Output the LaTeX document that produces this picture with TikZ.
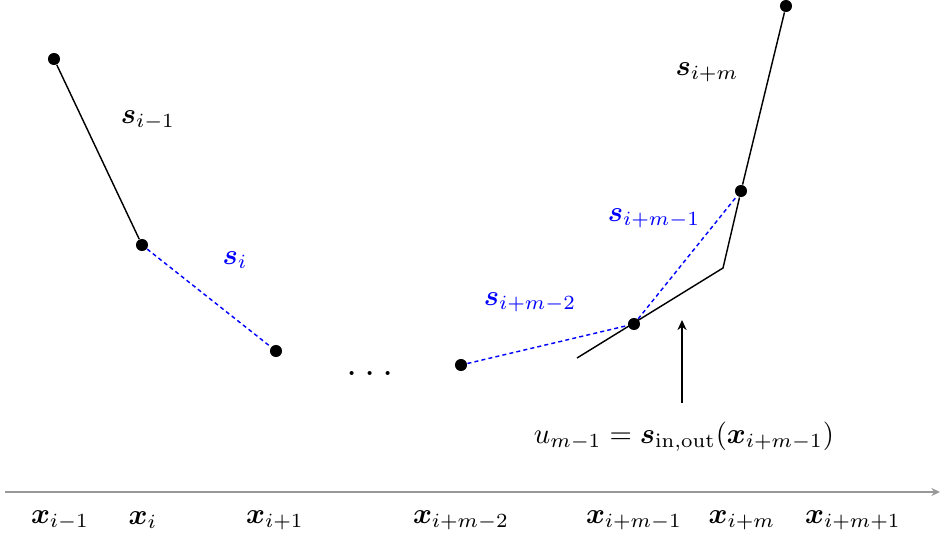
\documentclass[tikz,border=0pt]{standalone}
\usepackage{amsmath,bm}
\usetikzlibrary{arrows.meta}
\begin{document}
\begin{tikzpicture}[x=0.348pt,y=-0.348pt,
  pt/.style={circle,fill=black,inner sep=0pt,minimum size=4.2pt},
  seg/.style={black,line width=0.5pt},
  bseg/.style={blue,line width=0.5pt,dash pattern=on 1.4pt off 1.1pt},
  lab/.style={inner sep=0pt},
  blab/.style={inner sep=0pt,text=blue}]
\useasboundingbox (0,0) rectangle (947,547);
% points
\node[pt] (p1) at (54,59) {};
\node[pt] (p2) at (142,245) {};
\node[pt] (p3) at (276,351) {};
\node[pt] (p4) at (461,365) {};
\node[pt] (p5) at (634,324) {};
\node[pt] (p6) at (741,191) {};
\node[pt] (p7) at (786,6) {};
\node[lab,anchor=base] (dots) at (370,375) {\Large .\hspace{2.3pt}.\hspace{2.3pt}.};
% segments
\draw[seg] (p1) -- (p2);
\draw[bseg] (p2) -- (p3);
\draw[bseg] (p4) -- (p5);
\draw[bseg] (p5) -- (p6);
\draw[seg] (p6) -- (p7);
\coordinate (t0) at (577,358);
\coordinate (t1) at (723,268);
\draw[seg] (t0) -- (t1) -- (p6);
% labels
\node[lab] (l1) at (148,120) {$\bm{s}_{i-1}$};
\node[blab] (l2) at (235,260) {$\bm{s}_{i}$};
\node[blab] (l3) at (530,302) {$\bm{s}_{i+m-2}$};
\node[blab] (l4) at (654,218) {$\bm{s}_{i+m-1}$};
\node[lab] (l5) at (707,72) {$\bm{s}_{i+m}$};
% arrow and equation
\node[lab] (eq) at (684,437) {$u_{m-1}=\bm{s}_{\mathrm{in,out}}(\bm{x}_{i+m-1})$};
\coordinate (a0) at (682,403);
\coordinate (a1) at (682,320);
\draw[seg,-{Stealth[length=3.5pt,width=3.2pt]}] (a0) -- (a1);
% axis
\coordinate (ax0) at (5,492);
\coordinate (ax1) at (940,492);
\draw[gray!80,line width=0.5pt,-{Stealth[length=3pt,width=2.8pt]}] (ax0) -- (ax1);
\node[lab] (x1) at (60,520) {$\bm{x}_{i-1}$};
\node[lab] (x2) at (143,520) {$\bm{x}_{i}$};
\node[lab] (x3) at (275,520) {$\bm{x}_{i+1}$};
\node[lab] (x4) at (461,520) {$\bm{x}_{i+m-2}$};
\node[lab] (x5) at (634,520) {$\bm{x}_{i+m-1}$};
\node[lab] (x6) at (742,520) {$\bm{x}_{i+m}$};
\node[lab] (x7) at (853,520) {$\bm{x}_{i+m+1}$};
\end{tikzpicture}
\end{document}
